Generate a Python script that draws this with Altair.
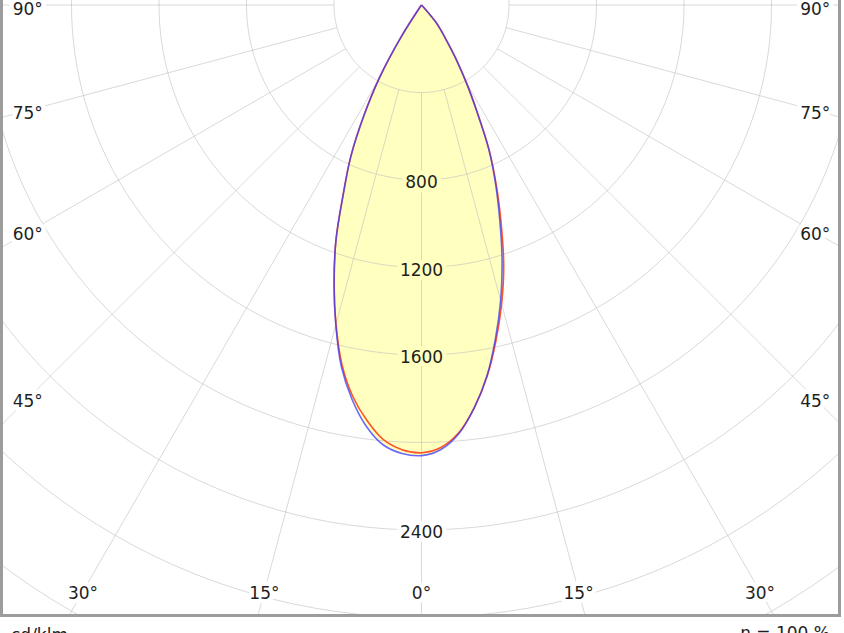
import altair as alt
import pandas as pd
import numpy as np

# ---- data (cd/klm vs gamma angle) ----
GAMMA = [0, 2.5, 5, 7.5, 10, 12.5, 15, 17.5, 20, 22.5, 25, 27.5, 30, 32.5, 35, 37.5, 40, 42.5, 45, 47.5]
# C0 / C180 plane (red)
C0 = [2045, 2025, 1962, 1855, 1725, 1572, 1415, 1250, 1065, 895, 732, 548, 411, 296, 204, 150, 100, 20, 0, 0]
C180 = [2047, 2035, 1995, 1915, 1815, 1682, 1510, 1328, 1143, 935, 765, 572, 386, 173, 10, 0, 0, 0, 0, 0]
# C90 / C270 plane (blue)
C90 = [2055, 2034, 1966, 1855, 1722, 1562, 1398, 1225, 1046, 885, 728, 548, 411, 297, 205, 150, 100, 20, 0, 0]
C270 = [2060, 2052, 2018, 1941, 1830, 1693, 1514, 1329, 1143, 932, 765, 570, 386, 173, 10, 0, 0, 0, 0, 0]

RINGS = [400, 800, 1200, 1600, 2000, 2400, 2800, 3200, 3600]
RING_LABELS = [800, 1200, 1600, 2400]
SPOKES = [-90, -75, -60, -45, -30, -15, 0, 15, 30, 45, 60, 75, 90]
SIDE_LABELS = [90, 75, 60, 45]
BOTTOM_LABELS = [-30, -15, 0, 15, 30]
UNIT_TEXT = "cd/klm"
ETA_TEXT = "η = 100 %"

# ---- layout ----
W, H = 841, 617
CX, CY = 421.5, 5.0
K = 87.5 / 400.0  # px per cd/klm
XDOM = [-CX / K, (W - CX) / K]
YDOM = [-(H - CY) / K, CY / K]
xs = alt.Scale(domain=XDOM, nice=False, zero=False)
ys = alt.Scale(domain=YDOM, nice=False, zero=False)

FONT = "DejaVu Sans"


def trim(vals):
    """keep values up to (and including) the first zero"""
    out = []
    for g, v in zip(GAMMA, vals):
        out.append((g, v))
        if v == 0:
            break
    return out


# curves
rows = []
for name, left, right in [("C0-C180", C180, C0), ("C90-C270", C270, C90)]:
    i = 0
    for g, v in reversed(trim(left)):
        t = np.radians(g)
        rows.append(dict(series=name, idx=i, x=-v * np.sin(t), y=-v * np.cos(t)))
        i += 1
    for g, v in trim(right)[1:]:
        t = np.radians(g)
        rows.append(dict(series=name, idx=i, x=v * np.sin(t), y=-v * np.cos(t)))
        i += 1
curves = pd.DataFrame(rows)

# grid circles
crow = []
for r in RINGS:
    for j, a in enumerate(range(0, 361, 2)):
        t = np.radians(a)
        crow.append(dict(ring=r, idx=j, x=r * np.sin(t), y=-r * np.cos(t)))
circles = pd.DataFrame(crow)

srow = []
for a in SPOKES:
    t = np.radians(a)
    srow.append(dict(x=400 * np.sin(t), y=-400 * np.cos(t), x2=4000 * np.sin(t), y2=-4000 * np.cos(t)))
spokes = pd.DataFrame(srow)

# labels
lrow = []
for v in RING_LABELS:
    lrow.append(dict(text=str(v), x=0.0, y=-float(v), halo="#FFFFC0" if v < 2000 else "white"))
SIDE_X = 1800.0
for a in SIDE_LABELS:
    t = np.radians(a)
    yy = -8.0 if a == 90 else -SIDE_X / np.tan(t)
    lrow.append(dict(text=f"{a}°", x=-SIDE_X, y=yy, halo="white"))
    lrow.append(dict(text=f"{a}°", x=SIDE_X, y=yy, halo="white"))
BOT_Y = 2680.0
for a in BOTTOM_LABELS:
    t = np.radians(a)
    lrow.append(dict(text=f"{abs(a)}°", x=BOT_Y * np.tan(t), y=-BOT_Y, halo="white"))
labels = pd.DataFrame(lrow)

X = lambda f: alt.X(f, type="quantitative", scale=xs, axis=None)
Y = lambda f: alt.Y(f, type="quantitative", scale=ys, axis=None)

INTERP = "catmull-rom"

fill = alt.Chart(curves).mark_line(fill="#FFFFC0", strokeWidth=0, clip=True, interpolate=INTERP).encode(
    x=X("x"), y=Y("y"), detail="series:N", order="idx:Q")

grid_c = alt.Chart(circles).mark_line(color="#c0c0c0", opacity=0.6, strokeWidth=1, clip=True).encode(
    x=X("x"), y=Y("y"), detail="ring:N", order="idx:Q")

grid_s = alt.Chart(spokes).mark_rule(color="#c0c0c0", opacity=0.6, strokeWidth=1, clip=True).encode(
    x=X("x"), y=Y("y"), x2="x2", y2="y2")

halo = alt.Chart(labels).mark_text(font=FONT, fontSize=17, strokeWidth=9, strokeJoin="round",
                                  baseline="middle", align="center", dy=3).encode(
    x=X("x"), y=Y("y"), text="text:N",
    stroke=alt.Stroke("halo:N", scale=None), fill=alt.Fill("halo:N", scale=None))

red = alt.Chart(curves[curves.series == "C0-C180"]).mark_line(
    color="#FF5428", strokeWidth=1.6, clip=True, interpolate=INTERP).encode(x=X("x"), y=Y("y"), order="idx:Q")
blue = alt.Chart(curves[curves.series == "C90-C270"]).mark_line(
    color="#3838FF", strokeWidth=1.6, opacity=0.75, clip=True, interpolate=INTERP).encode(
    x=X("x"), y=Y("y"), order="idx:Q")

text = alt.Chart(labels).mark_text(font=FONT, fontSize=17, color="#1e1e1e",
                                  baseline="middle", align="center", dy=3).encode(
    x=X("x"), y=Y("y"), text="text:N")

frame_l = alt.Chart(pd.DataFrame({"a": [0]})).mark_rule(color="#9c9c9c", strokeWidth=3).encode(
    x=alt.value(1.5), y=alt.value(0), y2=alt.value(617))
frame_r = alt.Chart(pd.DataFrame({"a": [0]})).mark_rule(color="#9c9c9c", strokeWidth=3).encode(
    x=alt.value(839.5), y=alt.value(0), y2=alt.value(617))
frame_b = alt.Chart(pd.DataFrame({"a": [0]})).mark_rule(color="#9c9c9c", strokeWidth=3).encode(
    x=alt.value(0), x2=alt.value(841), y=alt.value(615.5))

unit = alt.Chart(pd.DataFrame({"t": [UNIT_TEXT]})).mark_text(
    font=FONT, fontSize=17, color="#1e1e1e", align="left", baseline="alphabetic").encode(
    x=alt.value(11), y=alt.value(641), text="t:N")
eta = alt.Chart(pd.DataFrame({"t": [ETA_TEXT]})).mark_text(
    font=FONT, fontSize=17, color="#1e1e1e", align="right", baseline="alphabetic").encode(
    x=alt.value(830), y=alt.value(639), text="t:N")

chart = alt.layer(fill, grid_c, grid_s, halo, red, blue, text, frame_l, frame_r, frame_b, unit, eta).properties(
    width=W, height=H,
    autosize=alt.AutoSizeParams(type="none"),
    padding={"left": 0, "top": 0, "right": 3, "bottom": 16},
    background="white",
).configure_view(stroke=None)

chart.save("out.html", embed_options={"renderer": "svg", "actions": False})
